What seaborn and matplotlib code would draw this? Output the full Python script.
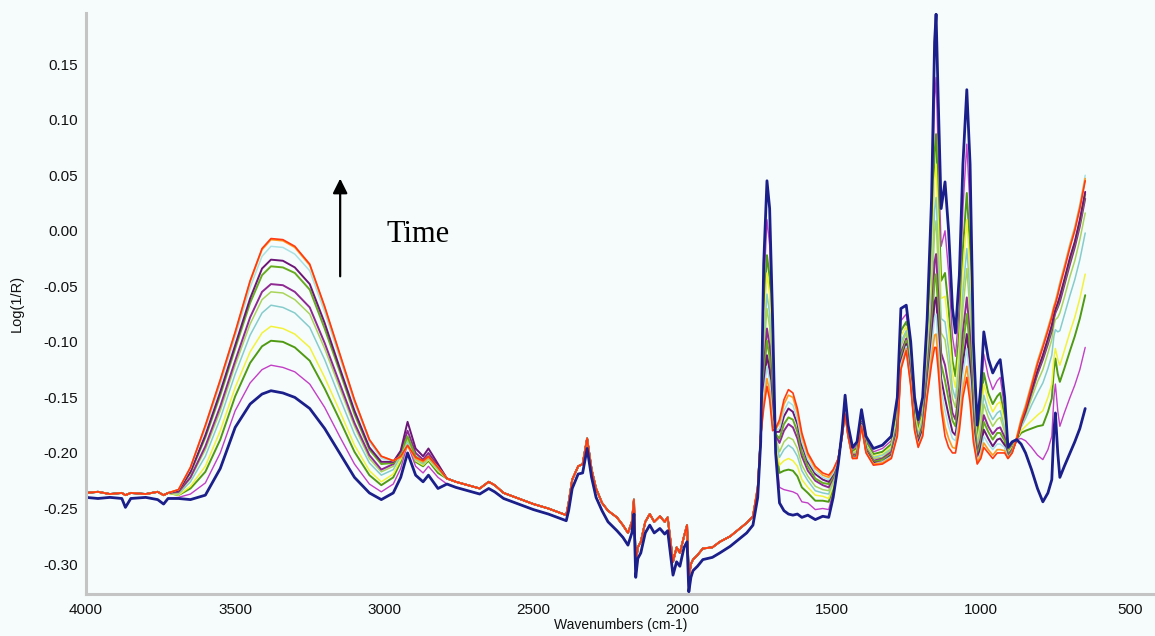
import matplotlib
matplotlib.use("Agg")
import matplotlib.pyplot as plt
from matplotlib.ticker import MultipleLocator, FuncFormatter
import pandas as pd
import seaborn as sns

# ---- wavenumber grids (cm-1) --------------------------------------------
head_w = [4000, 3960, 3920, 3880, 3868, 3850, 3800, 3760, 3740, 3725]
oh_w = [3690, 3650, 3600, 3550, 3500, 3450, 3410, 3380, 3340, 3300, 3250, 3200,
        3150, 3100, 3050, 3010, 2970, 2945, 2922, 2895, 2870, 2852, 2820]
mid_w = [2790, 2760, 2720, 2680, 2650, 2630, 2600, 2550, 2500, 2450,
         2410, 2390, 2382, 2370, 2350, 2335, 2320, 2305, 2290, 2270,
         2250, 2220, 2200, 2183, 2170, 2163, 2157, 2150, 2140, 2125,
         2110, 2095, 2076, 2060, 2050, 2040, 2032, 2020, 2009, 1995,
         1985, 1979, 1972, 1965, 1950, 1932, 1900, 1875, 1840, 1808,
         1785, 1764]
fp_w = [1748, 1738, 1728, 1717, 1708, 1698, 1688, 1675, 1660, 1645,
        1630, 1615, 1600, 1580, 1555, 1530, 1510, 1495, 1478, 1465,
        1455, 1445, 1430, 1415, 1400, 1385, 1360, 1330, 1300, 1280,
        1268, 1250, 1235, 1222, 1210, 1195, 1180, 1165, 1155, 1150,
        1143, 1133, 1120, 1108, 1095, 1085, 1072, 1060, 1047, 1036,
        1025, 1012, 1000, 990, 975, 960, 945, 935, 920, 909,
        895, 880, 865, 850, 830, 810, 792, 775, 762, 755,
        750, 742, 735, 720, 701, 685, 668, 650]

# ---- flat regions where the spectra nearly coincide -----------------------
head_upper = [-0.236, -0.235, -0.237, -0.236, -0.238, -0.236, -0.237, -0.235, -0.238, -0.236]
head_lower = [-0.240, -0.241, -0.240, -0.241, -0.249, -0.241, -0.240, -0.242, -0.246, -0.241]
mid_upper = [-0.223, -0.226, -0.229, -0.232, -0.226, -0.229, -0.236, -0.241, -0.246, -0.250,
             -0.254, -0.256, -0.245, -0.224, -0.212, -0.210, -0.187, -0.215, -0.232, -0.245,
             -0.252, -0.258, -0.265, -0.272, -0.262, -0.242, -0.300, -0.285, -0.280, -0.262,
             -0.255, -0.262, -0.257, -0.262, -0.258, -0.280, -0.298, -0.285, -0.290, -0.275,
             -0.265, -0.312, -0.300, -0.296, -0.292, -0.286, -0.285, -0.280, -0.275, -0.268,
             -0.263, -0.257]
mid_lower = [-0.228, -0.231, -0.234, -0.237, -0.232, -0.235, -0.241, -0.246, -0.251, -0.255,
             -0.259, -0.261, -0.252, -0.232, -0.219, -0.218, -0.196, -0.222, -0.240, -0.252,
             -0.262, -0.270, -0.276, -0.283, -0.272, -0.255, -0.312, -0.295, -0.290, -0.272,
             -0.265, -0.272, -0.268, -0.273, -0.270, -0.292, -0.310, -0.298, -0.302, -0.285,
             -0.280, -0.325, -0.312, -0.306, -0.302, -0.296, -0.294, -0.290, -0.284, -0.277,
             -0.272, -0.265]

# ---- O-H / C-H stretch band, one list per spectrum ------------------------
oh_navy = [-0.241, -0.242, -0.238, -0.214, -0.177, -0.156, -0.147, -0.144, -0.146, -0.150, -0.160, -0.178,
           -0.200, -0.222, -0.236, -0.242, -0.236, -0.222, -0.200, -0.220, -0.226, -0.220, -0.232]
oh_magenta = [-0.240, -0.237, -0.227, -0.200, -0.162, -0.137, -0.125, -0.121, -0.123, -0.127, -0.138, -0.159,
              -0.185, -0.210, -0.228, -0.235, -0.228, -0.214, -0.192, -0.212, -0.218, -0.212, -0.222]
oh_olive = [-0.238, -0.232, -0.217, -0.188, -0.149, -0.119, -0.104, -0.099, -0.100, -0.105, -0.117, -0.142,
            -0.170, -0.199, -0.220, -0.229, -0.222, -0.208, -0.186, -0.208, -0.212, -0.207, -0.218]
oh_yellow = [-0.238, -0.230, -0.212, -0.180, -0.141, -0.109, -0.092, -0.086, -0.088, -0.093, -0.105, -0.132,
             -0.162, -0.193, -0.216, -0.226, -0.219, -0.206, -0.188, -0.207, -0.211, -0.206, -0.216]
oh_teal = [-0.237, -0.226, -0.203, -0.169, -0.129, -0.094, -0.074, -0.067, -0.069, -0.074, -0.087, -0.116,
           -0.150, -0.183, -0.209, -0.220, -0.215, -0.203, -0.190, -0.206, -0.210, -0.205, -0.215]
oh_yg = [-0.236, -0.223, -0.197, -0.162, -0.121, -0.084, -0.062, -0.055, -0.056, -0.062, -0.075, -0.106,
         -0.141, -0.176, -0.205, -0.217, -0.212, -0.201, -0.187, -0.205, -0.209, -0.204, -0.214]
oh_purple = [-0.235, -0.222, -0.194, -0.158, -0.117, -0.078, -0.055, -0.048, -0.049, -0.055, -0.069, -0.101,
             -0.137, -0.173, -0.202, -0.215, -0.210, -0.199, -0.180, -0.200, -0.206, -0.200, -0.212]
oh_green2 = [-0.234, -0.218, -0.186, -0.148, -0.106, -0.065, -0.040, -0.032, -0.033, -0.038, -0.053, -0.088,
             -0.126, -0.165, -0.197, -0.210, -0.209, -0.200, -0.185, -0.203, -0.208, -0.203, -0.213]
oh_dpurple = [-0.234, -0.217, -0.184, -0.145, -0.103, -0.061, -0.034, -0.026, -0.027, -0.033, -0.048, -0.083,
              -0.123, -0.162, -0.195, -0.208, -0.208, -0.198, -0.172, -0.196, -0.203, -0.196, -0.210]
oh_lcyan = [-0.233, -0.214, -0.178, -0.138, -0.095, -0.051, -0.023, -0.014, -0.015, -0.021, -0.036, -0.073,
            -0.114, -0.155, -0.190, -0.205, -0.207, -0.203, -0.192, -0.205, -0.208, -0.204, -0.213]
oh_orange = [-0.233, -0.213, -0.176, -0.135, -0.092, -0.046, -0.017, -0.008, -0.009, -0.015, -0.031, -0.069,
             -0.111, -0.153, -0.188, -0.203, -0.207, -0.204, -0.194, -0.205, -0.208, -0.204, -0.213]
oh_red = [-0.233, -0.213, -0.175, -0.134, -0.091, -0.045, -0.016, -0.007, -0.008, -0.014, -0.030, -0.068,
          -0.110, -0.152, -0.188, -0.203, -0.207, -0.203, -0.193, -0.204, -0.207, -0.203, -0.213]

# ---- fingerprint region, one list per spectrum -----------------------------
fp_navy = [-0.240, -0.190, -0.030, 0.045, 0.020, -0.080, -0.200, -0.245, -0.252, -0.255,
           -0.256, -0.255, -0.258, -0.256, -0.260, -0.257, -0.258, -0.240, -0.210, -0.180,
           -0.148, -0.175, -0.195, -0.190, -0.161, -0.185, -0.196, -0.193, -0.185, -0.150,
           -0.070, -0.067, -0.100, -0.150, -0.170, -0.150, -0.080, 0.030, 0.170, 0.195,
           0.120, 0.020, 0.044, 0.000, -0.070, -0.092, -0.040, 0.060, 0.127, 0.060,
           -0.100, -0.175, -0.140, -0.091, -0.115, -0.128, -0.120, -0.116, -0.150, -0.195,
           -0.190, -0.188, -0.192, -0.200, -0.215, -0.232, -0.244, -0.236, -0.224, -0.180,
           -0.164, -0.200, -0.222, -0.212, -0.200, -0.190, -0.178, -0.160]
fp_magenta = [-0.238, -0.189, -0.055, 0.010, -0.013, -0.099, -0.196, -0.231, -0.233, -0.234,
              -0.235, -0.237, -0.244, -0.245, -0.251, -0.250, -0.251, -0.235, -0.209, -0.181,
              -0.151, -0.177, -0.197, -0.193, -0.164, -0.188, -0.199, -0.196, -0.189, -0.157,
              -0.081, -0.075, -0.108, -0.156, -0.175, -0.157, -0.093, 0.002, 0.118, 0.138,
              0.073, -0.014, 0.000, -0.037, -0.095, -0.113, -0.067, 0.020, 0.078, 0.019,
              -0.117, -0.182, -0.152, -0.111, -0.131, -0.143, -0.135, -0.132, -0.160, -0.197,
              -0.192, -0.188, -0.187, -0.189, -0.195, -0.202, -0.206, -0.197, -0.185, -0.150,
              -0.138, -0.162, -0.176, -0.164, -0.150, -0.139, -0.125, -0.105]
fp_olive = [-0.236, -0.188, -0.077, -0.022, -0.042, -0.116, -0.192, -0.218, -0.216, -0.215,
            -0.216, -0.221, -0.231, -0.236, -0.243, -0.243, -0.244, -0.231, -0.208, -0.182,
            -0.154, -0.179, -0.199, -0.195, -0.166, -0.190, -0.201, -0.199, -0.192, -0.163,
            -0.090, -0.082, -0.114, -0.161, -0.179, -0.163, -0.105, -0.024, 0.071, 0.087,
            0.032, -0.045, -0.038, -0.070, -0.117, -0.131, -0.090, -0.016, 0.034, -0.017,
            -0.132, -0.188, -0.163, -0.128, -0.146, -0.156, -0.149, -0.146, -0.168, -0.199,
            -0.194, -0.188, -0.182, -0.180, -0.178, -0.176, -0.175, -0.163, -0.151, -0.125,
            -0.115, -0.129, -0.136, -0.124, -0.108, -0.095, -0.079, -0.058]
fp_yellow = [-0.236, -0.188, -0.089, -0.038, -0.057, -0.125, -0.190, -0.211, -0.207, -0.205,
             -0.207, -0.212, -0.224, -0.231, -0.238, -0.239, -0.241, -0.229, -0.208, -0.182,
             -0.156, -0.180, -0.200, -0.197, -0.168, -0.192, -0.203, -0.201, -0.194, -0.166,
             -0.095, -0.086, -0.118, -0.164, -0.181, -0.166, -0.112, -0.038, 0.046, 0.060,
             0.010, -0.061, -0.059, -0.088, -0.129, -0.141, -0.103, -0.035, 0.010, -0.037,
             -0.141, -0.191, -0.169, -0.138, -0.153, -0.163, -0.156, -0.154, -0.173, -0.200,
             -0.195, -0.188, -0.180, -0.176, -0.171, -0.166, -0.162, -0.150, -0.138, -0.115,
             -0.106, -0.116, -0.121, -0.108, -0.091, -0.078, -0.061, -0.039]
fp_teal = [-0.235, -0.187, -0.102, -0.057, -0.075, -0.135, -0.188, -0.204, -0.197, -0.193,
           -0.196, -0.203, -0.216, -0.225, -0.234, -0.236, -0.237, -0.226, -0.207, -0.183,
           -0.157, -0.181, -0.201, -0.198, -0.169, -0.193, -0.204, -0.202, -0.196, -0.169,
           -0.100, -0.090, -0.122, -0.167, -0.184, -0.169, -0.119, -0.053, 0.019, 0.030,
           -0.015, -0.079, -0.082, -0.107, -0.142, -0.151, -0.117, -0.056, -0.016, -0.058,
           -0.150, -0.194, -0.176, -0.148, -0.162, -0.170, -0.164, -0.162, -0.178, -0.201,
           -0.196, -0.188, -0.177, -0.169, -0.157, -0.146, -0.137, -0.124, -0.112, -0.095,
           -0.089, -0.091, -0.090, -0.076, -0.058, -0.044, -0.026, -0.002]
fp_yg = [-0.234, -0.187, -0.111, -0.070, -0.087, -0.142, -0.186, -0.199, -0.190, -0.186,
         -0.188, -0.196, -0.211, -0.221, -0.230, -0.233, -0.234, -0.225, -0.207, -0.183,
         -0.159, -0.181, -0.201, -0.199, -0.170, -0.194, -0.205, -0.204, -0.197, -0.172,
         -0.104, -0.092, -0.125, -0.169, -0.186, -0.172, -0.123, -0.063, -0.001, 0.009,
         -0.032, -0.092, -0.098, -0.121, -0.151, -0.159, -0.127, -0.070, -0.034, -0.073,
         -0.156, -0.197, -0.180, -0.156, -0.168, -0.176, -0.170, -0.168, -0.181, -0.201,
         -0.196, -0.188, -0.175, -0.166, -0.151, -0.136, -0.125, -0.110, -0.098, -0.085,
         -0.080, -0.078, -0.074, -0.060, -0.041, -0.027, -0.008, 0.016]
fp_purple = [-0.233, -0.186, -0.124, -0.088, -0.104, -0.152, -0.184, -0.191, -0.180, -0.174,
             -0.177, -0.187, -0.203, -0.216, -0.225, -0.229, -0.231, -0.222, -0.206, -0.184,
             -0.160, -0.182, -0.202, -0.201, -0.172, -0.196, -0.207, -0.205, -0.199, -0.175,
             -0.110, -0.097, -0.129, -0.172, -0.188, -0.175, -0.130, -0.078, -0.028, -0.021,
             -0.056, -0.110, -0.121, -0.140, -0.164, -0.170, -0.141, -0.091, -0.060, -0.095,
             -0.165, -0.200, -0.187, -0.166, -0.176, -0.183, -0.178, -0.177, -0.186, -0.202,
             -0.197, -0.188, -0.174, -0.163, -0.146, -0.129, -0.116, -0.102, -0.090, -0.079,
             -0.074, -0.069, -0.064, -0.049, -0.030, -0.015, 0.004, 0.029]
fp_green2 = [-0.232, -0.186, -0.131, -0.099, -0.114, -0.158, -0.183, -0.187, -0.174, -0.168,
             -0.170, -0.181, -0.199, -0.212, -0.223, -0.227, -0.228, -0.221, -0.206, -0.184,
             -0.161, -0.183, -0.203, -0.202, -0.173, -0.197, -0.208, -0.206, -0.201, -0.177,
             -0.113, -0.099, -0.131, -0.173, -0.190, -0.177, -0.135, -0.087, -0.045, -0.039,
             -0.071, -0.120, -0.135, -0.152, -0.171, -0.176, -0.149, -0.104, -0.075, -0.108,
             -0.170, -0.202, -0.191, -0.172, -0.181, -0.188, -0.182, -0.182, -0.189, -0.203,
             -0.198, -0.188, -0.173, -0.162, -0.145, -0.127, -0.113, -0.099, -0.087, -0.077,
             -0.072, -0.067, -0.060, -0.046, -0.026, -0.011, 0.008, 0.033]
fp_dpurple = [-0.232, -0.186, -0.141, -0.112, -0.126, -0.165, -0.181, -0.181, -0.167, -0.160,
              -0.163, -0.174, -0.193, -0.208, -0.219, -0.224, -0.226, -0.219, -0.206, -0.184,
              -0.163, -0.184, -0.204, -0.203, -0.174, -0.198, -0.209, -0.208, -0.202, -0.180,
              -0.117, -0.102, -0.134, -0.176, -0.191, -0.180, -0.140, -0.098, -0.064, -0.060,
              -0.088, -0.133, -0.151, -0.166, -0.181, -0.184, -0.159, -0.119, -0.093, -0.123,
              -0.177, -0.205, -0.195, -0.179, -0.187, -0.194, -0.188, -0.187, -0.193, -0.204,
              -0.199, -0.188, -0.173, -0.162, -0.144, -0.126, -0.112, -0.097, -0.085, -0.076,
              -0.071, -0.065, -0.059, -0.044, -0.024, -0.010, 0.010, 0.035]
fp_lcyan = [-0.231, -0.186, -0.147, -0.122, -0.135, -0.170, -0.180, -0.178, -0.162, -0.154,
            -0.157, -0.170, -0.190, -0.206, -0.217, -0.222, -0.224, -0.218, -0.206, -0.185,
            -0.163, -0.184, -0.204, -0.204, -0.175, -0.199, -0.210, -0.208, -0.203, -0.182,
            -0.120, -0.104, -0.136, -0.177, -0.193, -0.182, -0.143, -0.105, -0.078, -0.075,
            -0.101, -0.142, -0.162, -0.176, -0.187, -0.189, -0.166, -0.129, -0.106, -0.134,
            -0.181, -0.207, -0.199, -0.185, -0.192, -0.197, -0.192, -0.192, -0.195, -0.204,
            -0.199, -0.186, -0.169, -0.156, -0.137, -0.117, -0.102, -0.087, -0.075, -0.067,
            -0.063, -0.054, -0.046, -0.031, -0.011, 0.004, 0.024, 0.050]
fp_orange = [-0.230, -0.185, -0.155, -0.133, -0.145, -0.176, -0.179, -0.173, -0.156, -0.148,
             -0.150, -0.164, -0.185, -0.202, -0.214, -0.220, -0.222, -0.216, -0.205, -0.185,
             -0.164, -0.185, -0.205, -0.204, -0.175, -0.199, -0.210, -0.209, -0.204, -0.184,
             -0.123, -0.106, -0.138, -0.179, -0.194, -0.184, -0.147, -0.114, -0.094, -0.093,
             -0.115, -0.153, -0.176, -0.187, -0.195, -0.196, -0.174, -0.142, -0.122, -0.146,
             -0.186, -0.209, -0.202, -0.191, -0.197, -0.202, -0.197, -0.197, -0.198, -0.205,
             -0.200, -0.186, -0.170, -0.158, -0.138, -0.118, -0.103, -0.088, -0.076, -0.068,
             -0.064, -0.056, -0.048, -0.033, -0.013, 0.002, 0.022, 0.047]
fp_red = [-0.230, -0.185, -0.160, -0.140, -0.152, -0.180, -0.178, -0.170, -0.152, -0.143,
          -0.146, -0.160, -0.182, -0.200, -0.212, -0.218, -0.220, -0.215, -0.205, -0.185,
          -0.165, -0.185, -0.205, -0.205, -0.176, -0.200, -0.211, -0.210, -0.205, -0.185,
          -0.125, -0.108, -0.140, -0.180, -0.195, -0.185, -0.150, -0.120, -0.105, -0.105,
          -0.125, -0.160, -0.185, -0.195, -0.200, -0.200, -0.180, -0.150, -0.132, -0.155,
          -0.190, -0.210, -0.205, -0.195, -0.200, -0.205, -0.200, -0.200, -0.200, -0.205,
          -0.200, -0.188, -0.172, -0.160, -0.140, -0.120, -0.105, -0.090, -0.078, -0.070,
          -0.066, -0.058, -0.050, -0.035, -0.015, 0.000, 0.020, 0.045]

# ---- spectra: (name, colour, width, O-H part, fingerprint part, low baseline?)
spectra = [
    ("magenta", "#c23fc6", 1.0, oh_magenta, fp_magenta, True),
    ("olive", "#4f9a12", 1.4, oh_olive, fp_olive, False),
    ("yellow", "#f2f23a", 1.1, oh_yellow, fp_yellow, False),
    ("teal", "#86cccc", 1.1, oh_teal, fp_teal, False),
    ("yellowgreen", "#a9d45a", 1.1, oh_yg, fp_yg, False),
    ("purple", "#8e2a92", 1.4, oh_purple, fp_purple, False),
    ("green", "#67ac1e", 1.4, oh_green2, fp_green2, False),
    ("darkpurple", "#6c1778", 1.4, oh_dpurple, fp_dpurple, False),
    ("lightcyan", "#a8e2e4", 1.1, oh_lcyan, fp_lcyan, False),
    ("orange", "#ff9a1e", 1.2, oh_orange, fp_orange, False),
    ("red", "#ff3a12", 1.2, oh_red, fp_red, False),
    ("navy", "#1b1f8a", 2.0, oh_navy, fp_navy, True),
]

wavenumber = head_w + oh_w + mid_w + fp_w
frames = []
for name, colour, width, oh_part, fp_part, low in spectra:
    head = head_lower if low else head_upper
    mid = mid_lower if low else mid_upper
    frames.append(pd.DataFrame({"wavenumber": wavenumber,
                                "log_inv_r": head + oh_part + mid + fp_part,
                                "spectrum": name}))
data = pd.concat(frames, ignore_index=True)

sns.set_style("white")
plt.rcParams["font.family"] = ["Liberation Sans", "DejaVu Sans"]

bg = "#f6fcfc"
fig = plt.figure(figsize=(11.55, 6.36), dpi=100, facecolor=bg)
ax = fig.add_axes([0.0745, 0.066, 0.9255, 0.9135], facecolor=bg)

for name, colour, width, *_ in spectra:
    sns.lineplot(data=data[data["spectrum"] == name], x="wavenumber", y="log_inv_r",
                 color=colour, linewidth=width, sort=False, estimator=None,
                 ax=ax, legend=False)

ax.set_xlim(4000, 416)
ax.set_ylim(-0.327, 0.196)

ax.xaxis.set_major_locator(MultipleLocator(500))
ax.xaxis.set_minor_locator(MultipleLocator(100))
ax.yaxis.set_major_locator(MultipleLocator(0.05))
ax.yaxis.set_minor_locator(MultipleLocator(0.0125))
ax.xaxis.set_major_formatter(FuncFormatter(lambda v, p: f"{v:.0f}"))
ax.yaxis.set_major_formatter(FuncFormatter(lambda v, p: f"{v:.2f}".replace("-0.00", "0.00")))

for side in ("top", "right"):
    ax.spines[side].set_visible(False)
for side in ("left", "bottom"):
    ax.spines[side].set_color("#c4c4c4")
    ax.spines[side].set_linewidth(2.2)

ax.tick_params(axis="both", which="major", direction="out", length=4, width=1.2,
               color="black", labelsize=11, pad=2, labelcolor="#111111")
ax.tick_params(axis="both", which="minor", direction="inout", length=3, width=1.0,
               color="#222222")
ax.tick_params(axis="x", which="major", direction="inout", length=5, pad=4)

ax.set_xlabel("Wavenumbers (cm-1)", fontsize=10, labelpad=1, color="#111111")
ax.set_ylabel("Log(1/R)", fontsize=10.5, labelpad=14, color="#111111")

# time arrow and caption
ax.annotate("", xy=(3148, 0.047), xytext=(3148, -0.041),
            arrowprops=dict(arrowstyle="-|>", color="black", lw=1.6,
                            mutation_scale=22, shrinkA=0, shrinkB=0))
ax.text(2994, -0.003, "Time", fontsize=22, family="Liberation Serif",
        ha="left", va="center", color="black")

fig.savefig("out.png", dpi=100, facecolor=bg)
